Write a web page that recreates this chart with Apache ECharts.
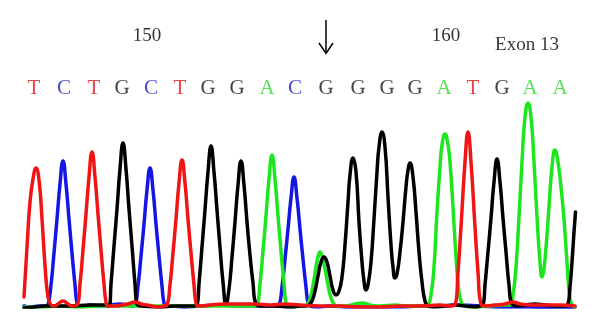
<!DOCTYPE html>
<html>
<head>
<meta charset="utf-8">
<script src="https://cdn.jsdelivr.net/npm/echarts@6/dist/echarts.min.js"></script>
<style>html,body{margin:0;padding:0;background:#fff}#c{width:600px;height:336px}</style>
</head>
<body>
<div id="c"></div>
<script>
// Trace channels: [scan position, signal intensity]
const traceT = [[24,10],[27,60],[30,105],[33,128],[36,139],[39,127],[42,88],[45,42],[48,10],[51,2],
  [54,1],[58,3],[63,6],[68,3],[72,1],
  [77,2],[80,23],[83,57],[86,93],[89,130],[92,155],[95,130],[98,93],[101,57],[104,23],[106,5],[108,1],
  [112,1],[116,1],[122,2],[128,3],[135,5],[141,3],[147,2],[152,1],[158,0],
  [164,1],[167,2],[170,22],[173,54],[176,88],[179,124],[182,147],[185,124],[188,88],[191,54],[194,22],[196,4],[198,1],
  [202,1],[210,2],[225,3],[240,3],[255,3],[270,2],[285,3],[300,2],[320,1],[340,1],[360,0],[380,0],[400,1],[420,1],[440,2],[451,1],
  [455,2],[458,35],[461,80],[465,145],[468,175],[471,145],[475,80],[478,35],[481,3],
  [486,1],[495,2],[505,3],[513,5],[520,3],[530,2],[545,2],[560,2],[575,1]];
const traceC = [[24,1],[30,0],[40,1],[46,1],
  [48,2],[51,22],[54,54],[57,88],[60,123],[63,146],[66,123],[69,88],[72,54],[75,22],[77,4],[79,1],
  [84,1],[90,2],[100,1],[110,2],[120,3],[128,2],[132,1],
  [135,2],[138,21],[141,51],[144,83],[147,117],[150,139],[153,117],[156,83],[159,51],[162,21],[164,4],[166,1],
  [172,1],[185,0],[200,1],[220,2],[240,1],[260,1],[270,1],[276,1],
  [279,2],[282,20],[285,48],[288,78],[291,109],[294,130],[297,109],[300,78],[303,48],[306,20],[308,4],[310,1],
  [316,0],[330,1],[350,0],[380,0],[400,0],[420,1],[440,1],[460,2],[480,1],[495,0],[510,0],[530,0],[550,-1],[575,0]];
const traceG = [[24,-1],[35,0],[45,1],[55,1],[70,1],[90,2],[104,2],
  [109,1],[111,23],[114,61],[117,98],[120,138],[123,164],[126,138],[129,98],[132,61],[135,23],[137,3],
  [142,1],[160,0],[175,1],[190,1],[194,1],
  [197,2],[199,23],[202,60],[205,97],[208,135],[211,161],[214,135],[217,97],[220,60],[223,25],[226,3],
  [229,18],[232,50],[235,85],[238,122],[241,146],[244,122],[247,85],[250,52],[253,24],[256,3],
  [262,1],[275,1],[290,0],[300,1],[306,1],
  [309,2],[312,6],[315,16],[318,31],[321,45],[324,50],[327,45],[330,31],[333,17],[336,12],
  [339,16],[342,30],[345,62],[348,105],[350,132],[353,149],[356,135],[359,85],[362,45],[364,26],[366,17],
  [368,22],[371,45],[374,88],[377,135],[379,160],[382,175],[385,160],[388,110],[391,62],[393,40],[395,29],
  [397,33],[400,55],[403,85],[406,120],[408,137],[410,144],[413,130],[416,95],[419,55],[422,25],[425,6],[428,1],
  [435,0],[445,1],[455,2],[465,1],[475,0],[480,1],
  [483,2],[485,22],[488,55],[491,89],[494,125],[497,148],[500,125],[503,89],[506,55],[509,22],[512,3],
  [518,1],[525,2],[535,3],[545,2],[555,1],[565,1],[568,3],[570,20],[572,45],[574,75],[575.5,95]];
const traceA = [[24,0],[40,0],[60,1],[80,0],[100,1],[130,1],[160,1],[200,1],[230,1],[250,1],[254,1],
  [257,2],[260,23],[263,56],[266,91],[269,128],[272,152],[275,128],[278,91],[281,56],[284,23],[286,4],[288,1],
  [294,0],[300,1],[305,1],
  [307,2],[310,8],[313,22],[316,40],[318,50],[320,55],[322,51],[325,38],[328,22],[331,9],[334,3],[337,1],
  [345,1],[355,3],[362,4],[370,2],[380,1],[395,2],[405,1],[420,1],[425,1],
  [428,2],[431,12],[434,40],[437,95],[440,140],[442,162],[445,173],[448,162],[450,145],[453,100],[456,50],[459,15],[462,3],
  [465,1],[475,0],[490,1],[505,2],[508,2],
  [510,2],[513,12],[516,40],[519,90],[522,145],[525,190],[528,204],[531,190],[534,145],[537,90],[540,45],[542,30],
  [544,38],[547,72],[549,100],[552,140],[555,157],[558,145],[561,120],[564,88],[567,45],[570,8],[573,1],[575,0]];

// Base calls and their scan positions
const bases = ['T','C','T','G','C','T','G','G','A','C','G','G','G','G','A','T','G','A','A'];
const basePos = [34,64,94,122,151,180,208,237,267,295,326,358,387,415,444,473,502,530,560];
const baseRowLevel = 219;

// Position ruler labels
const rulerLabels = ['150','160'];
const rulerPos = [147,446];
const rulerLevel = 271;

const exonLabel = 'Exon 13';
const exonPos = 527;
const exonLevel = 262;

const mutationPos = 326;

const channelColors = {A:'#1ee61e', C:'#1515e6', G:'#000000', T:'#f01414'};
const letterColors = {A:'#2ed82e', C:'#1c1cc0', G:'#111111', T:'#e01818'};

const chart = echarts.init(document.getElementById('c'));

function trace(name, data, color){
  return {type:'line', name, data, showSymbol:false, smooth:0.5,
    lineStyle:{color, width:3.5, join:'round', cap:'round'}, itemStyle:{color}, silent:true, animation:false, z:2};
}

const serif = '"Liberation Serif", "DejaVu Serif", serif';

chart.setOption({
  backgroundColor:'#ffffff',
  animation:false,
  grid:{left:0,right:0,top:0,bottom:29},
  xAxis:{type:'value',min:0,max:600,show:false},
  yAxis:{type:'value',min:0,max:307,show:false},
  series:[
    trace('C', traceC, channelColors.C),
    trace('A', traceA, channelColors.A),
    trace('G', traceG, channelColors.G),
    trace('T', traceT, channelColors.T),
    {type:'scatter', symbolSize:0, silent:true, z:5,
      data: bases.map((b,i)=>({value:[basePos[i], baseRowLevel], label:{color:letterColors[b]}, name:b})),
      label:{show:true, position:'inside', formatter:p=>p.name, fontFamily:serif, fontSize:21}},
    {type:'scatter', symbolSize:0, silent:true, z:5,
      data: rulerLabels.map((t,i)=>({value:[rulerPos[i], rulerLevel], name:t})),
      label:{show:true, position:'inside', formatter:p=>p.name, fontFamily:serif, fontSize:19, color:'#000'}},
    {type:'scatter', symbolSize:0, silent:true, z:5,
      data:[{value:[exonPos, exonLevel], name:exonLabel}],
      label:{show:true, position:'inside', formatter:p=>p.name, fontFamily:serif, fontSize:19, color:'#000'}}
  ]
});

const ax = chart.convertToPixel({gridIndex:0}, [mutationPos, 0])[0];
chart.setOption({graphic:[
  {type:'line', shape:{x1:ax,y1:20,x2:ax,y2:53}, style:{stroke:'#000', lineWidth:1.5}},
  {type:'polyline', shape:{points:[[ax-7,43],[ax,53.5],[ax+7,43]]}, style:{stroke:'#000', lineWidth:1.5, fill:null}}
]});
</script>
</body>
</html>
